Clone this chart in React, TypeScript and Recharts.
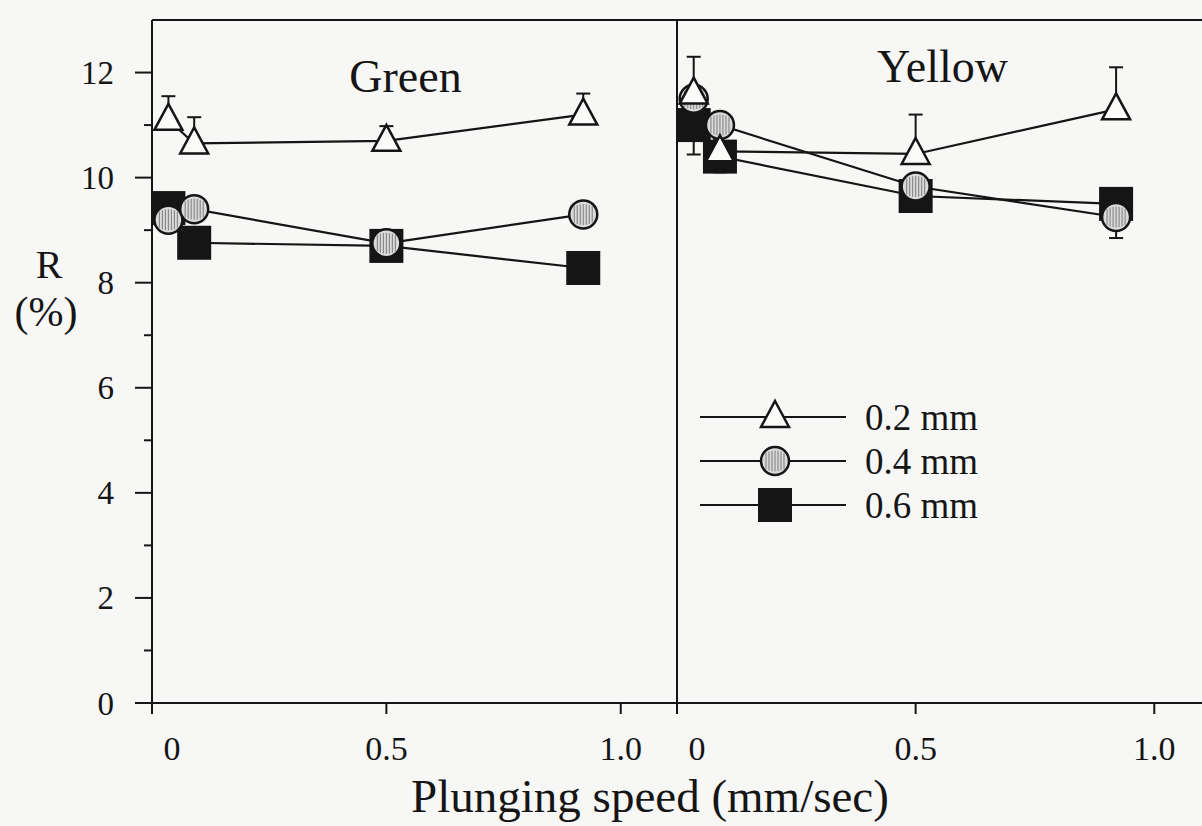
import React from "react";
import { LineChart, Line, XAxis, YAxis, ErrorBar, ReferenceLine, Legend } from "recharts";

const INK = "#151515";
const FONT = '"Liberation Serif", "Times New Roman", serif';

// plunging speed (mm/sec) of the four measurements
const speeds = [0.035, 0.09, 0.5, 0.92];
const seriesNames = ["0.2 mm", "0.4 mm", "0.6 mm"];

// Green panel, R (%)
const green02 = [11.1, 10.65, 10.7, 11.2];
const green04 = [9.2, 9.4, 8.75, 9.3];
const green06 = [9.42, 8.76, 8.7, 8.28];
const green02Err = [[0, 0.45], [0, 0.5], [0, 0.28], [0, 0.4]];

// Yellow panel, R (%)
const yellow02 = [11.6, 10.5, 10.45, 11.3];
const yellow04 = [11.5, 11.0, 9.83, 9.25];
const yellow06 = [11.0, 10.4, 9.65, 9.5];
const yellow02Err = [[0, 0.7], [0.4, 0], [0, 0.75], [0, 0.8]];
const yellow04Err = [[0, 0], [0, 0], [0, 0], [0.4, 0]];
const yellow06Err = [[0.56, 0], [0, 0], [0, 0], [0, 0]];

const noErr = [[0, 0], [0, 0], [0, 0], [0, 0]];

const yTicks = [0, 1, 2, 3, 4, 5, 6, 7, 8, 9, 10, 11, 12];
const xTicks = [0, 0.5, 1.0];

const greenRows = speeds.map((s, i) => ({
  s,
  r02: green02[i],
  r04: green04[i],
  r06: green06[i],
  e02: green02Err[i],
  e04: noErr[i],
  e06: noErr[i],
}));

const yellowRows = speeds.map((s, i) => ({
  s,
  r02: yellow02[i],
  r04: yellow04[i],
  r06: yellow06[i],
  e02: yellow02Err[i],
  e04: yellow04Err[i],
  e06: yellow06Err[i],
}));

const Triangle = ({ cx, cy }: { cx: number; cy: number }) => (
  <path
    d={`M${cx},${cy - 16} L${cx + 14},${cy + 10} L${cx - 14},${cy + 10} Z`}
    fill="#fbfbfa"
    stroke={INK}
    strokeWidth={2.5}
  />
);

// light grey disc with vertical dark specks, like the stippled marker
const Stipple = ({ cx, cy }: { cx: number; cy: number }) => {
  const r = 14;
  const offs = [-9, -6, -3, 0, 3, 6, 9];
  return (
    <g>
      <circle cx={cx} cy={cy} r={r} fill="#dadada" stroke={INK} strokeWidth={2.5} />
      {offs.map((dx) => {
        const h = Math.sqrt(r * r - dx * dx) * 0.75;
        return (
          <line key={dx} x1={cx + dx} x2={cx + dx} y1={cy - h} y2={cy + h} stroke="#858585" strokeWidth={1.1} />
        );
      })}
    </g>
  );
};

const Square = ({ cx, cy }: { cx: number; cy: number }) => (
  <rect x={cx - 17} y={cy - 17} width={34} height={34} fill={INK} />
);

const marker = (i: number, cx: number, cy: number) =>
  i === 0 ? <Triangle cx={cx} cy={cy} /> : i === 1 ? <Stipple cx={cx} cy={cy} /> : <Square cx={cx} cy={cy} />;

const YTick = (props: any) => {
  const { x, y, payload } = props;
  const major = payload.value % 2 === 0;
  return (
    <g>
      <line x1={x - (major ? 17 : 8)} x2={x} y1={y} y2={y} stroke={INK} strokeWidth={2} />
      {major && (
        <text x={x - 38} y={y} dy="0.35em" textAnchor="end" fontSize={33} fill={INK} fontFamily={FONT}>
          {payload.value}
        </text>
      )}
    </g>
  );
};

const XTick = (props: any) => {
  const { x, y, payload } = props;
  const v = payload.value as number;
  return (
    <g>
      <line x1={x} x2={x} y1={y} y2={y + 11} stroke={INK} strokeWidth={2} />
      <text x={x + (v === 0 ? 20 : 0)} y={y + 57} textAnchor="middle" fontSize={34} fill={INK} fontFamily={FONT}>
        {v === 0 ? "0" : v.toFixed(1)}
      </text>
    </g>
  );
};

const LegendBox = () => (
  <svg width={330} height={135}>
    {seriesNames.map((name, i) => {
      const cy = 21 + i * 44;
      return (
        <g key={name}>
          <line x1={10} x2={156} y1={cy} y2={cy} stroke={INK} strokeWidth={2} />
          {marker(i, 85, cy)}
          <text x={175} y={cy} dy="0.35em" fontSize={37} fill={INK} fontFamily={FONT}>
            {name}
          </text>
        </g>
      );
    })}
  </svg>
);

interface PanelProps {
  rows: typeof greenRows;
  title: string;
  side: "left" | "right";
}

const Panel = ({ rows, title, side }: PanelProps) => {
  const left = side === "left";
  return (
    <LineChart
      width={1202}
      height={826}
      data={rows}
      margin={{ top: 20, right: left ? 525 : 0, left: left ? 0 : 657, bottom: 0 }}
    >
      <XAxis
        dataKey="s"
        type="number"
        domain={left ? [0, 1.12] : [0, 1.1]}
        ticks={xTicks}
        height={123}
        tickSize={0}
        tickMargin={0}
        tickLine={false}
        axisLine={{ stroke: INK, strokeWidth: 2 }}
        tick={<XTick />}
        allowDataOverflow
        label={
          left
            ? {
                content: () => (
                  <text x={650} y={812} textAnchor="middle" fontSize={47} fill={INK} fontFamily={FONT}>
                    Plunging speed (mm/sec)
                  </text>
                ),
              }
            : undefined
        }
      />
      <YAxis
        type="number"
        domain={[0, 13]}
        ticks={yTicks}
        width={left ? 152 : 20}
        tickSize={0}
        tickMargin={0}
        tickLine={false}
        axisLine={{ stroke: INK, strokeWidth: 2 }}
        tick={left ? <YTick /> : false}
        label={
          left
            ? {
                content: () => (
                  <g>
                    <text x={49} y={278} textAnchor="middle" fontSize={40} fill={INK} fontFamily={FONT}>
                      R
                    </text>
                    <text x={46} y={326} textAnchor="middle" fontSize={42} fill={INK} fontFamily={FONT}>
                      (%)
                    </text>
                  </g>
                ),
              }
            : undefined
        }
      />
      <ReferenceLine
        y={13}
        stroke={INK}
        strokeWidth={2}
        label={{
          content: (p: any) => (
            <text
              x={p.viewBox.x + p.viewBox.width / 2 + (left ? -9 : 3)}
              y={left ? 92 : 82}
              textAnchor="middle"
              fontSize={46}
              fill={INK}
              fontFamily={FONT}
            >
              {title}
            </text>
          ),
        }}
      />
      <Line
        dataKey="r06"
        name={seriesNames[2]}
        stroke={INK}
        strokeWidth={2.2}
        isAnimationActive={false}
        dot={(p: any) => <Square key={`s${p.index}`} cx={p.cx} cy={p.cy} />}
      >
        <ErrorBar dataKey="e06" direction="y" width={7} stroke={INK} strokeWidth={2} />
      </Line>
      <Line
        dataKey="r04"
        name={seriesNames[1]}
        stroke={INK}
        strokeWidth={2.2}
        isAnimationActive={false}
        dot={(p: any) => <Stipple key={`c${p.index}`} cx={p.cx} cy={p.cy} />}
      >
        <ErrorBar dataKey="e04" direction="y" width={7} stroke={INK} strokeWidth={2} />
      </Line>
      <Line
        dataKey="r02"
        name={seriesNames[0]}
        stroke={INK}
        strokeWidth={2.2}
        isAnimationActive={false}
        dot={(p: any) => <Triangle key={`t${p.index}`} cx={p.cx} cy={p.cy} />}
      >
        <ErrorBar dataKey="e02" direction="y" width={7} stroke={INK} strokeWidth={2} />
      </Line>
      {!left && (
        <Legend
          layout="horizontal"
          verticalAlign="middle"
          align="center"
          content={() => <LegendBox />}
          wrapperStyle={{ left: 690, top: 396, width: 330, height: 135 }}
        />
      )}
    </LineChart>
  );
};

export default function App() {
  return (
    <div
      style={{
        position: "absolute",
        left: 0,
        top: 0,
        width: 1202,
        height: 826,
        background: "#f7f7f5",
        overflow: "hidden",
        fontFamily: FONT,
      }}
    >
      <div style={{ position: "absolute", left: 0, top: 0 }}>
        <Panel rows={greenRows} title="Green" side="left" />
      </div>
      <div style={{ position: "absolute", left: 0, top: 0 }}>
        <Panel rows={yellowRows} title="Yellow" side="right" />
      </div>
    </div>
  );
}
